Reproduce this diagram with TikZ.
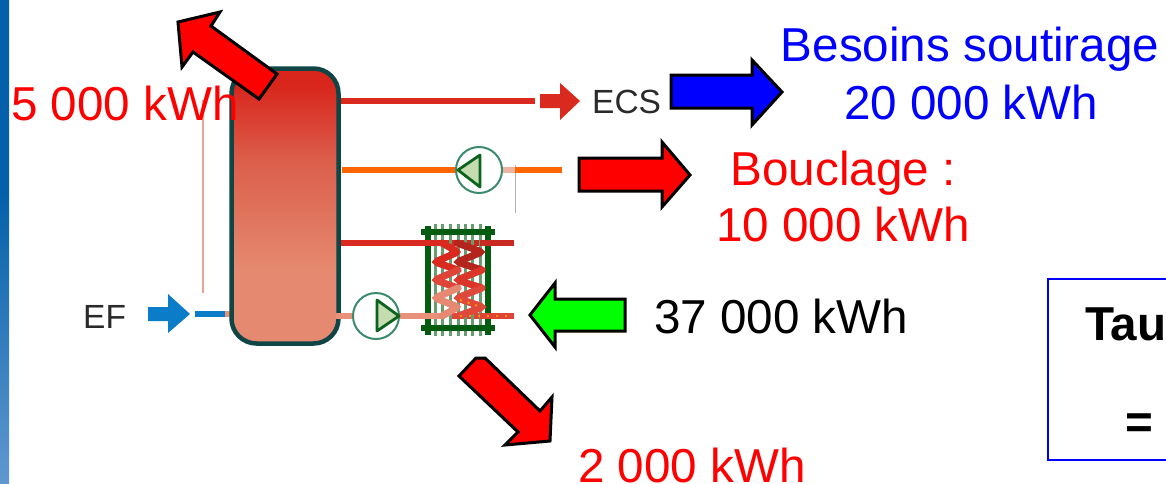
\documentclass[tikz,border=0pt]{standalone}
\usepackage{fontspec}
\setmainfont{Liberation Sans}
\definecolor{tankt}{HTML}{D8261C}
\definecolor{tankm}{HTML}{DB5F4C}
\definecolor{tankb}{HTML}{E58A70}
\definecolor{bart}{HTML}{0460AA}
\definecolor{barb}{HTML}{6098D0}
\definecolor{tankedge}{HTML}{0F4545}
\definecolor{pipered}{HTML}{DA2A20}
\definecolor{pipedark}{HTML}{C82A20}
\definecolor{pipepink}{HTML}{E8927C}
\definecolor{pipeor}{HTML}{FF6600}
\definecolor{efblue}{HTML}{0A7CC8}
\definecolor{hxgreen}{HTML}{045C10}
\definecolor{pumpgreen}{HTML}{3C8A6C}
\definecolor{pumpfill}{HTML}{C4DCB0}
\definecolor{thinpink}{HTML}{E8A698}
\definecolor{ink}{HTML}{2A2A2A}
\pgfdeclareverticalshading{tankshade}{100bp}{color(0bp)=(tankb); color(38bp)=(tankb); color(58bp)=(tankm); color(72bp)=(tankt); color(100bp)=(tankt)}
\pgfdeclareverticalshading{barshade}{100bp}{color(0bp)=(barb); color(25bp)=(barb); color(55bp)=(bart); color(100bp)=(bart)}
\tikzset{
  x=1pt,y=-1pt,
  bigarrow/.style={draw=black,line width=3pt,miter limit=10},
  lab/.style={inner sep=0pt,font=\fontsize{47.6}{47.6}\selectfont},
  smalllab/.style={inner sep=0pt,text=ink,font=\fontsize{33.5}{33.5}\selectfont},
  pipe/.style={line width=6pt},
  pumpc/.style={circle,draw=pumpgreen,line width=2pt,fill=white,minimum size=46pt,inner sep=0pt},
  pumptri/.style={draw=hxgreen!85!pumpgreen,fill=pumpfill,line width=2.8pt,line join=round},
  coil/.style={line width=7pt,rounded corners=3pt,line cap=round},
  hxbar/.style={draw=hxgreen,line width=5.5pt},
  hxfin/.style={draw=hxgreen!60!white,line width=3pt},
}
\begin{document}
\begin{tikzpicture}
\useasboundingbox (0,0) rectangle (1166,483);
\clip (0,0) rectangle (1166,483);
\fill[white] (0,0) rectangle (1166,483);
% side bar
\shade[shading=barshade] (0,0) rectangle (9,483);

% anchors for the pipes
\coordinate (ecsend) at (535,101);
\coordinate (ecstart) at (338,101);
\coordinate (orstart) at (342,170);
\coordinate (orend) at (562,170);
\coordinate (hxtl) at (334,243);
\coordinate (hxtr) at (514,243);
\coordinate (hxbr) at (514,316);
\coordinate (efpipe) at (195,314);
\coordinate (thintop) at (203,100);
\coordinate (thinbot) at (203,293);
\coordinate (greytop) at (515,165);
\coordinate (greybot) at (515,213);

% thin lines
\draw[thinpink,line width=1.5pt] (thintop) -- (thinbot);
\draw[gray!60,line width=1pt] (greytop) -- (greybot);

% pipes behind tank
\draw[pipered,pipe] (ecstart) -- (ecsend);
\draw[pipeor,pipe] (orstart) -- (orend);
\draw[pipered,pipe] (hxtl) -- (hxtr);
\draw[efblue,pipe] (efpipe) -- (225,314);
\draw[pipepink,pipe] (225,314) -- (235,314);

% tank
\node[draw=tankedge,line width=4.5pt,rounded corners=25pt,shading=tankshade,
      minimum width=107pt,minimum height=275pt,inner sep=0pt] (tank) at (285,206) {};

% bottom pipe
\draw[pipepink,pipe] (336,316) -- (445,316);
\draw[pipered!75!pipepink,pipe] (452,316) -- (hxbr);
\draw[pipedark,pipe] (457,243) -- (hxtr);

% pumps
\node[pumpc] (pumpA) at (479,170) {};
\draw[pumptri] (458,170) -- (480,155) -- (480,187) -- cycle;
\draw[pipepink!70!white,line width=6pt] (pumpA.east) -- (greytop |- pumpA);
\node[pumpc] (pumpB) at (376,316) {};
\draw[pumptri] (399,316) -- (377,300) -- (377,331) -- cycle;

% heat exchanger
\foreach \fx in {435,442,450,458,465,472,480} \draw[hxfin] (\fx,224) -- (\fx,336);
\draw[hxbar] (421,232) -- (495,232);
\draw[hxbar] (421,328) -- (495,328);
\draw[hxbar] (428,226) -- (428,335);
\draw[hxbar] (488,226) -- (488,335);
\draw[pipered,pipe] (425,243) -- (442,243);
\draw[pipepink,pipe] (425,316) -- (442,316);
\draw[pipedark,pipe] (480,243) -- (492,243);
\draw[pipered!75!pipepink,pipe] (480,316) -- (492,316);
% left coil
\draw[coil,pipered] (442,243) -- (458,252) -- (435,262) -- (458,270);
\draw[coil,pipered!75!pipepink] (458,270) -- (435,280) -- (458,288);
\draw[coil,pipepink!90!pipered] (458,288) -- (435,298) -- (458,307) -- (442,316);
% right coil
\draw[coil,pipedark!90!black] (457,243) -- (482,252) -- (457,262) -- (482,270);
\draw[coil,pipered!90!pipepink] (482,270) -- (457,280) -- (482,288);
\draw[coil,pipered!70!pipepink] (482,288) -- (457,298) -- (483,307) -- (458,316);
\draw[pipeor!70!yellow,line width=2pt,dash pattern=on 2pt off 7pt] (460,316) -- (hxbr);
\draw[pipeor!70!yellow,line width=2pt,dash pattern=on 2pt off 6pt] (460,300) -- (478,306);

% small solid arrows
\fill[pipered] (540,94) -- (560,94) -- (560,83) -- (580,101) -- (560,120) -- (560,108) -- (540,108) -- cycle;
\fill[efblue] (148,307) -- (168,307) -- (168,294) -- (190,314) -- (168,333) -- (168,321) -- (148,321) -- cycle;

% big block arrows
\draw[bigarrow,fill=red] (277,74) -- (259,99) -- (193,52) -- (182,67) -- (178,22) -- (220,12) -- (211,26) -- cycle;
\draw[bigarrow,fill=blue] (671,75) -- (752,75) -- (752,60) -- (782,92) -- (752,125) -- (752,108) -- (671,108) -- cycle;
\draw[bigarrow,fill=red] (579,158) -- (662,158) -- (662,142) -- (690,175) -- (662,207) -- (662,191) -- (579,191) -- cycle;
\draw[bigarrow,fill=green] (625,299) -- (555,299) -- (555,283) -- (530,315) -- (555,347) -- (555,331) -- (625,331) -- cycle;
\draw[bigarrow,fill=red] (459,376) -- (476,358) -- (485,358) -- (540,411) -- (552,397) -- (550,441) -- (505,445) -- (518,432) -- cycle;
\fill[white] (455,350) rectangle (495,356);

% labels
\node[smalllab,anchor=west] (ecs) at (592,102) {ECS};
\node[smalllab,anchor=west] (ef) at (83,317) {EF};
\node[lab,text=red,anchor=base west] (l5) at (11,120) {5 000 kWh};
\node[lab,text=blue,anchor=base] (l1) at (970,61) {Besoins soutirage};
\node[lab,text=blue,anchor=base] (l2) at (971,119) {20 000 kWh};
\node[lab,text=red,anchor=base] (l3) at (843,185) {Bouclage :};
\node[lab,text=red,anchor=base] (l4) at (843,241) {10 000 kWh};
\node[lab,text=black,anchor=base west] (l6) at (654,333) {37 000 kWh};
\node[lab,text=red,anchor=base west] (l7) at (578,482) {2 000 kWh};

% result box
\draw[blue,line width=2pt] (1200,279) -- (1047.5,279) -- (1047.5,460) -- (1200,460);
\node[lab,text=black,anchor=base west,font=\fontsize{47.6}{47.6}\selectfont\bfseries] (tau) at (1085,340) {Tau};
\node[lab,text=black,anchor=base,font=\fontsize{47.6}{47.6}\selectfont\bfseries] (eq) at (1139,438) {=};
\end{tikzpicture}
\end{document}
